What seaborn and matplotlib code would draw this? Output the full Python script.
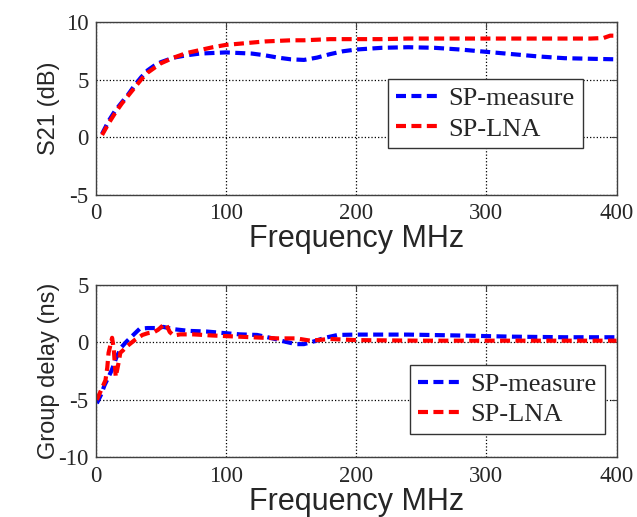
import matplotlib
matplotlib.use("Agg")
import matplotlib.pyplot as plt
import seaborn as sns
import pandas as pd

# ---- data ----
s21_freq_measure = [5, 10, 15, 20, 25, 30, 35, 40, 45, 50, 60, 70, 80, 90, 100, 110, 120, 130, 140,
                    150, 160, 170, 180, 190, 200, 220, 240, 260, 280, 300, 320, 340, 360, 380, 400]
s21_measure = [0.3, 1.4, 2.3, 3.0, 3.7, 4.5, 5.2, 5.8, 6.2, 6.5, 6.9, 7.1, 7.25, 7.3, 7.35, 7.3, 7.25,
               7.1, 6.9, 6.75, 6.7, 6.9, 7.2, 7.45, 7.6, 7.75, 7.8, 7.75, 7.6, 7.4, 7.2, 7.0, 6.85, 6.8, 6.75]
s21_freq_lna = [5, 10, 15, 20, 25, 30, 35, 40, 45, 50, 60, 70, 80, 90, 100, 110, 120, 130, 140,
                150, 160, 170, 180, 190, 200, 220, 240, 260, 280, 300, 320, 340, 360, 380, 390, 395, 400]
s21_lna = [0.2, 1.2, 2.1, 2.9, 3.6, 4.3, 5.0, 5.6, 6.0, 6.4, 6.9, 7.3, 7.55, 7.8, 8.0, 8.1, 8.2, 8.3,
           8.35, 8.4, 8.4, 8.45, 8.5, 8.5, 8.5, 8.5, 8.55, 8.55, 8.55, 8.55, 8.55, 8.55, 8.55, 8.55,
           8.6, 8.8, 8.8]

gd_freq_measure = [1, 4, 7, 10, 12.5, 16, 20, 24, 29, 34, 40, 47, 52, 60, 72, 85, 100, 111, 124, 136,
                   146, 154, 160, 168, 176, 186, 200, 240, 280, 320, 360, 400]
gd_measure = [-5.3, -4.6, -3.7, -3.0, -2.4, -1.3, -0.4, 0.1, 0.65, 1.2, 1.25, 1.25, 1.35, 1.15, 1.0,
              0.95, 0.8, 0.7, 0.65, 0.35, 0.05, -0.15, -0.15, 0.1, 0.4, 0.65, 0.68, 0.68, 0.6, 0.5,
              0.45, 0.45]
gd_freq_lna = [1, 3.7, 7.6, 9, 10, 11.5, 12.7, 14, 15.5, 17.8, 19, 21, 24, 30, 36, 40, 45, 48, 52, 54,
               57, 60, 65, 75, 90, 100, 120, 140, 154, 165, 180, 200, 250, 300, 350, 400]
gd_lna = [-5.0, -4.3, -3.3, -2.2, -0.9, -0.2, 0.4, -0.6, -3.0, -1.7, -0.9, -0.7, -0.35, 0.2, 0.65,
          0.8, 0.9, 1.1, 1.5, 1.6, 0.9, 0.6, 0.7, 0.7, 0.6, 0.55, 0.45, 0.35, 0.35, 0.15, 0.3, 0.2,
          0.15, 0.15, 0.15, 0.15]

labels = ["SP-measure", "SP-LNA"]
colors = ["#0000ff", "#ff0000"]
xticks = [0, 100, 200, 300, 400]
s21_yticks = [-5, 0, 5, 10]
gd_yticks = [-10, -5, 0, 5]

sns.set_style("white")
plt.rcParams["font.family"] = ["Liberation Sans", "DejaVu Sans"]

fig = plt.figure(figsize=(6.37, 5.17), dpi=100)
ax1 = fig.add_axes([0.150, 0.6228, 0.818, 0.335])
ax2 = fig.add_axes([0.150, 0.1155, 0.818, 0.3333])

def draw(ax, series, yticks, ylabel, leg_anchor):
    for (fx, fy), lab, col in zip(series, labels, colors):
        df = pd.DataFrame({"f": fx, "v": fy})
        sns.lineplot(data=df, x="f", y="v", ax=ax, color=col, linewidth=3,
                     label=lab, sort=False, estimator=None)
    for ln in ax.get_lines():
        ln.set_dashes([2.4, 1.3])
    ax.set_xlim(0, 400)
    ax.set_ylim(yticks[0], yticks[-1])
    ax.set_xticks(xticks)
    ax.set_yticks(yticks)
    ax.set_xticklabels([str(t) for t in xticks], family="Liberation Serif", fontsize=16.5)
    ax.set_yticklabels([str(t) for t in yticks], family="Liberation Serif", fontsize=16.5)
    ax.tick_params(direction="in", top=True, right=True, length=4, width=0.8,
                   color="#404040", pad=5)
    ax.tick_params(axis="x", pad=6)
    ax.grid(True, linestyle=":", color="black", linewidth=0.9)
    for sp in ax.spines.values():
        sp.set_color("#404040")
        sp.set_linewidth(1.0)
    ax.set_xlabel("Frequency MHz", fontsize=22, family="Liberation Sans")
    ax.set_ylabel(ylabel, fontsize=17, family="Liberation Sans")
    ax.xaxis.set_label_coords(0.5, -0.17)
    ax.yaxis.set_label_coords(-0.068, 0.5)
    leg = ax.legend(loc="lower right", bbox_to_anchor=leg_anchor, fancybox=False,
                    frameon=True, edgecolor="#333333", framealpha=1,
                    prop={"family": "Liberation Serif", "size": 19},
                    handlelength=1.7, handletextpad=0.3, labelspacing=0.25,
                    borderpad=0.3, borderaxespad=0)
    leg.get_frame().set_linewidth(1.0)
    for h in leg.get_lines():
        h.set_dashes([2.4, 1.3])

draw(ax1, [(s21_freq_measure, s21_measure), (s21_freq_lna, s21_lna)], s21_yticks,
     "S21 (dB)", (0.935, 0.269))
draw(ax2, [(gd_freq_measure, gd_measure), (gd_freq_lna, gd_lna)], gd_yticks,
     "Group delay (ns)", (0.9775, 0.135))

fig.savefig("out.png", dpi=100)
